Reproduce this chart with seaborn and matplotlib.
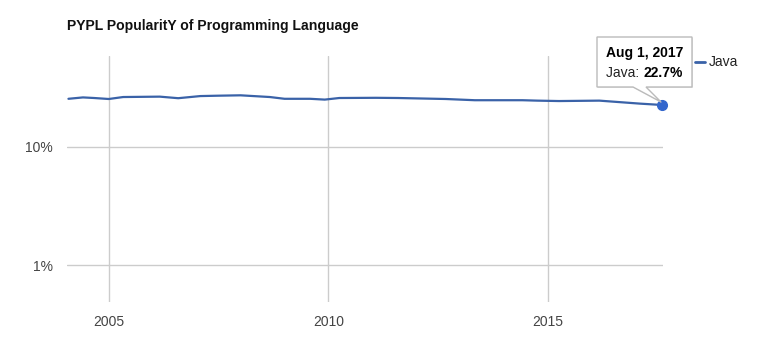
import numpy as np
import pandas as pd
import matplotlib
matplotlib.use("Agg")
import matplotlib.pyplot as plt
import matplotlib.dates as mdates
from matplotlib.patches import Polygon
from matplotlib.ticker import FixedLocator, NullLocator
import seaborn as sns

# values (share of searches, %)
dates = ["2004-02-01", "2004-06-01", "2004-09-01", "2005-01-01", "2005-05-01",
         "2006-03-01", "2006-08-01", "2007-02-01", "2007-07-01", "2008-01-01",
         "2008-09-01", "2009-01-01", "2009-08-01", "2009-12-01", "2010-04-01",
         "2011-02-01", "2011-08-01", "2012-09-01", "2013-05-01", "2014-06-01",
         "2014-10-01", "2015-04-01", "2016-03-01", "2017-02-01", "2017-08-01"]
java = [25.6, 26.3, 26.0, 25.5, 26.5,
        26.7, 25.9, 27.0, 27.2, 27.4,
        26.5, 25.6, 25.6, 25.2, 26.0,
        26.1, 26.0, 25.5, 24.9, 24.9,
        24.7, 24.5, 24.7, 23.3, 22.7]
y_ticks = [1, 10]
y_tick_labels = ["1%", "10%"]
x_ticks = ["2005-01-01", "2010-01-01", "2015-01-01"]
x_tick_labels = ["2005", "2010", "2015"]

df = pd.DataFrame({"date": pd.to_datetime(dates), "Java": java})

W, H = 770, 356
line_color = "#3a62a8"
grid_color = "#cccccc"

sns.set_style("white")
plt.rcParams["font.family"] = ["Liberation Sans", "DejaVu Sans"]

fig = plt.figure(figsize=(W / 100, H / 100), dpi=100)
ax = fig.add_axes([67 / W, 1 - 302 / H, (663 - 67) / W, (302 - 56) / H])

sns.lineplot(data=df, x="date", y="Java", ax=ax, color=line_color, linewidth=1.6)
ax.plot(df["date"].iloc[-1], df["Java"].iloc[-1], "o", color="#3366cc",
        markersize=7, zorder=5, clip_on=False)

ax.set_yscale("log")
ax.set_ylim(0.486, 59)
ax.set_xlim(pd.Timestamp("2004-01-20"), pd.Timestamp("2017-08-12"))

ax.yaxis.set_major_locator(FixedLocator(y_ticks))
ax.yaxis.set_minor_locator(NullLocator())
ax.set_yticklabels(y_tick_labels)
ax.set_xticks(pd.to_datetime(x_ticks))
ax.set_xticklabels(x_tick_labels)
ax.tick_params(axis="both", length=0, labelsize=10, colors="#444444")
ax.tick_params(axis="y", pad=10)
ax.tick_params(axis="x", pad=9)
ax.grid(True, color=grid_color, linewidth=1)
ax.set_axisbelow(True)
for s in ax.spines.values():
    s.set_visible(False)
ax.set_xlabel("")
ax.set_ylabel("")

fig.text(67 / W, 1 - 26 / H, "PYPL PopularitY of Programming Language",
         fontsize=10.1, fontweight="bold", color="#111111", va="center")

# legend
fig.add_artist(plt.Line2D([695 / W, 705 / W], [1 - 62 / H, 1 - 62 / H], color=line_color, linewidth=2))
fig.text(709 / W, 1 - 62 / H, "Java", fontsize=10, color="#222222", va="center")

# tooltip
px = [(597, 37), (692, 37), (692, 87), (646, 87), (661, 102), (633, 87), (597, 87)]
shadow = Polygon([((x + 1) / W, 1 - (y + 1) / H) for x, y in px], closed=True,
                 transform=fig.transFigure, facecolor="#e6e6e6", edgecolor="none", zorder=9)
tip = Polygon([(x / W, 1 - y / H) for x, y in px], closed=True, transform=fig.transFigure,
              facecolor="white", edgecolor="#bbbbbb", linewidth=1, zorder=10)
fig.add_artist(shadow)
fig.add_artist(tip)
fig.text(606 / W, 1 - 53 / H, "Aug 1, 2017", fontsize=10, fontweight="bold",
         color="#000000", va="center", zorder=11)
t1 = fig.text(606 / W, 1 - 73 / H, "Java: ", fontsize=10, color="#222222", va="center", zorder=11)
fig.canvas.draw()
bb = t1.get_window_extent()
fig.text(bb.x1 / W, 1 - 73 / H, "22.7%", fontsize=10, fontweight="bold",
         color="#000000", va="center", zorder=11)

fig.savefig("out.png", dpi=100)
